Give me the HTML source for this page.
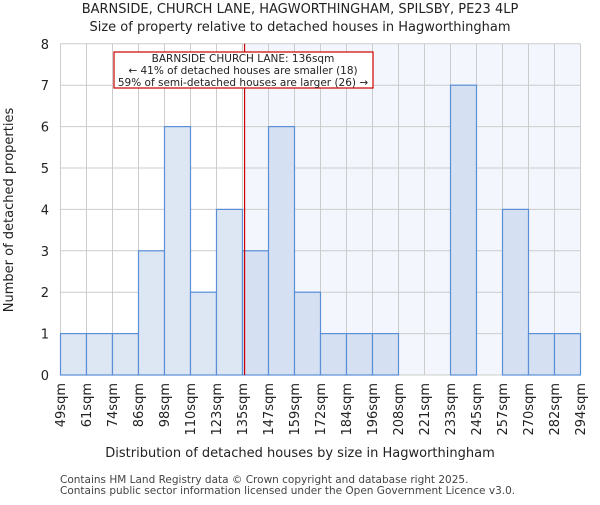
<!DOCTYPE html>
<html><head><meta charset="utf-8"><style>
body{margin:0;background:#fff}
svg{font-family:"DejaVu Sans","Liberation Sans",sans-serif}
</style></head><body>
<svg id="c" width="600" height="500" viewBox="0 0 600 500">
<text x="300" y="13" text-anchor="middle" font-size="13" fill="#222">BARNSIDE, CHURCH LANE, HAGWORTHINGHAM, SPILSBY, PE23 4LP</text>
<text x="300" y="31" text-anchor="middle" font-size="13" fill="#222">Size of property relative to detached houses in Hagworthingham</text>
<g id="plot"></g>
<text x="300" y="457" text-anchor="middle" font-size="13" fill="#222">Distribution of detached houses by size in Hagworthingham</text>
<text transform="translate(13,210) rotate(-90)" text-anchor="middle" font-size="13" fill="#222">Number of detached properties</text>
<text x="60" y="483" font-size="10.5" fill="#444">Contains HM Land Registry data © Crown copyright and database right 2025.</text>
<text x="60" y="494" font-size="10.5" fill="#444">Contains public sector information licensed under the Open Government Licence v3.0.</text>
</svg>
<script>
const edges=[49,61,74,86,98,110,123,135,147,159,172,184,196,208,221,233,245,257,270,282,294];
const counts=[1,1,1,3,6,2,4,3,6,2,1,1,1,0,0,7,0,4,1,1];
const yTicks=[0,1,2,3,4,5,6,7,8];
const markerBin=7.08;
const X0=60.5,BW=26,Y0=375,YU=41.4;
const xb=i=>X0+i*BW, y=v=>Y0-v*YU;
const NS="http://www.w3.org/2000/svg",g=document.getElementById('plot');
function mk(t,a){const e=document.createElementNS(NS,t);for(const k in a)e.setAttribute(k,a[k]);g.appendChild(e);return e;}
const mx=xb(markerBin);
let e=mk('rect',{x:mx,y:y(8),width:xb(counts.length)-mx,height:Y0-y(8),fill:'#f3f6fd'});


yTicks.forEach(t=>{
 let l=mk('line',{x1:X0,x2:xb(counts.length),y1:y(t),y2:y(t),stroke:'#ccc'});
 
 
 let tx=mk('text',{x:49,y:y(t)+5,'text-anchor':'end','font-size':'13',fill:'#222'});tx.textContent=t;
 
 
});
edges.forEach((v,i)=>{
 let l=mk('line',{x1:xb(i),x2:xb(i),y1:y(8),y2:Y0,stroke:'#ccc'});
 
 
 let tx=mk('text',{transform:`translate(${xb(i)+4.5},383) rotate(-90)`,'text-anchor':'end','font-size':'13',fill:'#222'});tx.textContent=v+'sqm';
 
 
});
counts.forEach((c,i)=>{
 if(!c)return;
 let r=mk('rect',{x:xb(i),y:y(c),width:BW,height:c*YU,fill:(i+1>markerBin?'#d5e0f2':'#dde6f3'),stroke:'#5b8fd6','stroke-width':1.2});
 
 
});
let ml=mk('line',{x1:mx,x2:mx,y1:y(8),y2:Y0,stroke:'#c00','stroke-width':1.2});


let bx=mk('rect',{x:114,y:52,width:259,height:36,fill:'#fff',stroke:'#c00','stroke-width':1.2});


["BARNSIDE CHURCH LANE: 136sqm","← 41% of detached houses are smaller (18)","59% of semi-detached houses are larger (26) →"].forEach((s,k)=>{
 let t=mk('text',{x:243,y:62+k*12,'text-anchor':'middle','font-size':'10.5',fill:'#222'});t.textContent=s;
 
 
});
</script>
</body></html>
